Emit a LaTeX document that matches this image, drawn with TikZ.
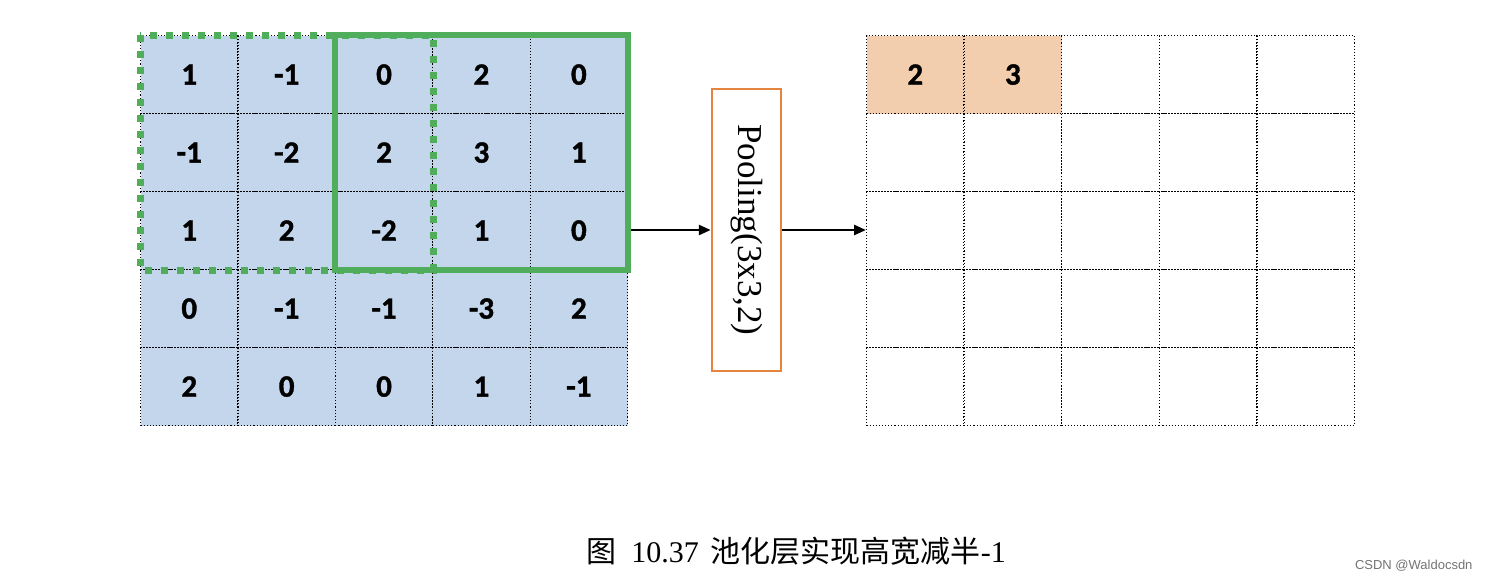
\documentclass[tikz,border=0pt]{standalone}
\usepackage{fontspec}
\setmainfont{Liberation Serif}
\newfontfamily\cellfont{Carlito}[BoldFont={Carlito Bold},BoldFeatures={FakeBold=1.2}]
\newfontfamily\cjk{Noto Sans CJK SC}
\newfontfamily\wmfont{Liberation Sans}
\usetikzlibrary{arrows.meta}
\definecolor{cellblue}{HTML}{C3D6EB}
\definecolor{pgreen}{HTML}{4FAD5B}
\definecolor{porange}{HTML}{E5843F}
\definecolor{pfill}{HTML}{F2CEAF}
\tikzset{
  cellbox/.style={draw=black, line width=1.1pt, dotted, minimum width=97.4pt, minimum height=78pt, inner sep=0pt, anchor=north west, font=\cellfont\bfseries\fontsize{31}{31}\selectfont},
  incell/.style={cellbox, fill=cellblue},
  outcell/.style={cellbox, fill=white},
  hotcell/.style={cellbox, fill=pfill},
  conn/.style={-{Triangle[length=12pt,width=10pt]}, line width=2.6pt, black},
}
\begin{document}
\begin{tikzpicture}[x=1pt,y=-1pt]
\useasboundingbox (0,0) rectangle (1490,582);
% input grid
\foreach \r/\row in {0/{1,-1,0,2,0},1/{-1,-2,2,3,1},2/{1,2,-2,1,0},3/{0,-1,-1,-3,2},4/{2,0,0,1,-1}}{
  \foreach \v [count=\c from 0] in \row {
    \node[incell] (in-\r-\c) at ({140+97.4*\c},{35+78*\r}) {\v};
  }
}
% output grid
\foreach \r in {0,...,4}{
  \foreach \c in {0,...,4}{
    \node[outcell] (out-\r-\c) at ({866+97.6*\c},{35+78*\r}) {};
  }
}
\node[hotcell] (out-0-0) at (866,35) {2};
\node[hotcell] (out-0-1) at ({866+97.6},35) {3};
% pooling windows
\draw[pgreen, line width=7pt, dash pattern=on 7pt off 9pt] (in-0-0.north west) rectangle (in-2-2.south east);
\draw[pgreen, line width=5.5pt] (in-0-2.north west) rectangle (in-2-4.south east);
% pooling box
\node[draw=porange, line width=2.5pt, fill=white, minimum width=69pt, minimum height=282pt, inner sep=0pt] (pool) at (746.5,230) {};
\node[rotate=-90, font=\fontsize{35}{35}\selectfont] (poollabel) at (pool.center) {Pooling(3x3,2)};
% connectors
\coordinate (src) at (in-2-4.south east |- pool.center);
\draw[conn] ([xshift=3pt]src) -- (pool.west);
\draw[conn] (pool.east) -- (out-2-0.north west |- pool.center);
% caption
\node[font=\fontsize{30}{30}\selectfont, anchor=center] (caption) at (796,551) {{\cjk 图}\hspace{15pt}10.37\hspace{12pt}{\cjk 池化层实现高宽减半}-1};
\node[font=\wmfont\fontsize{13}{13}\selectfont, text=black!55, anchor=east] (wm) at (1476,566) {CSDN @Waldocsdn};
\end{tikzpicture}
\end{document}
